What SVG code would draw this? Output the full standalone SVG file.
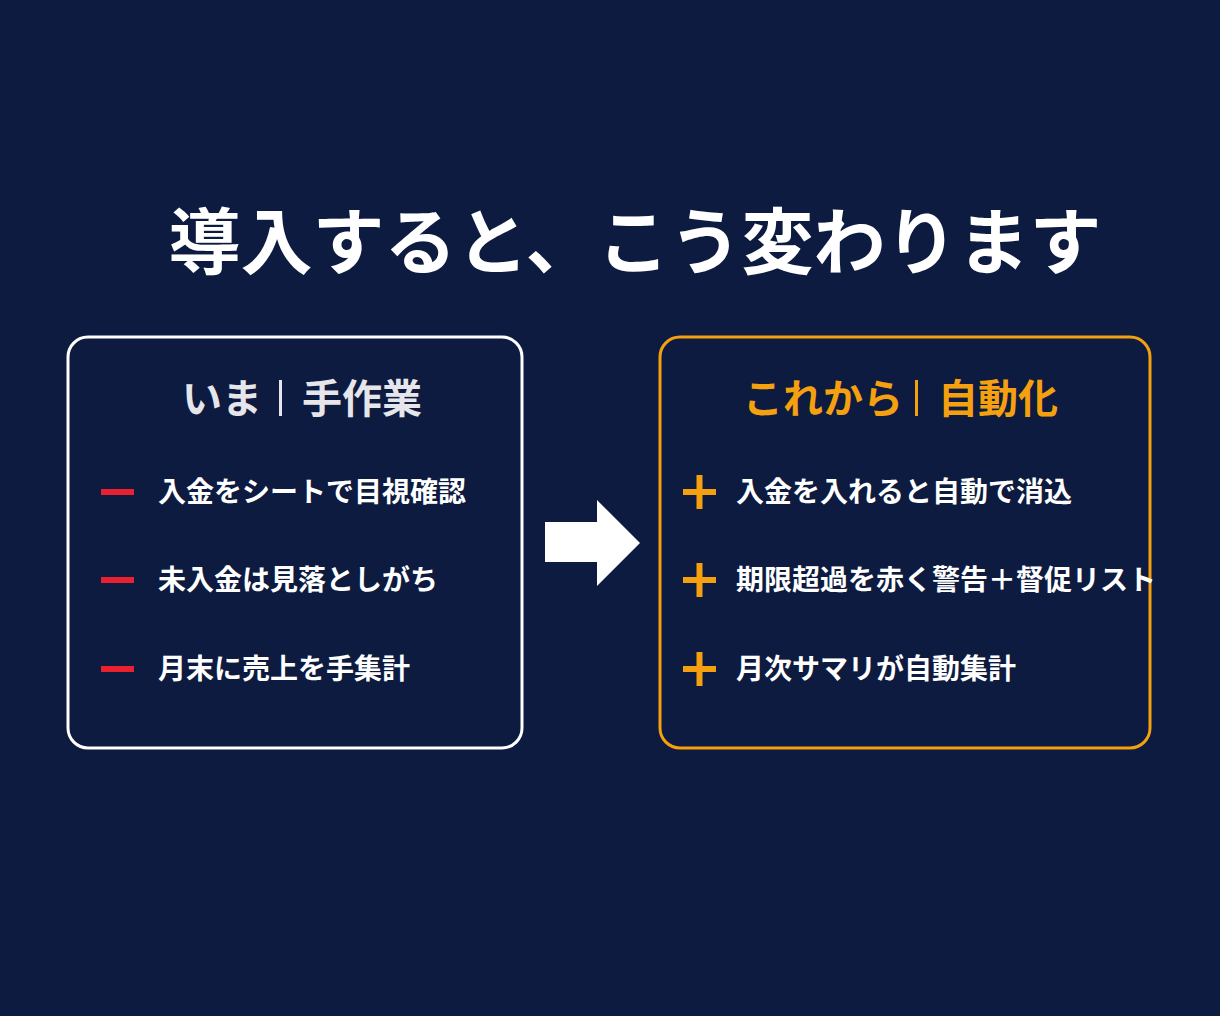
<svg xmlns="http://www.w3.org/2000/svg" width="1220" height="1016" viewBox="0 0 1220 1016">
<style>
text{font-family:"Noto Sans CJK JP","Noto Sans",sans-serif;font-weight:700}
.item{fill:#ffffff;font-size:28px}
.hl{fill:#e6e6ea;font-size:40px}
.hr{fill:#f5a00f;font-size:40px}
</style>
<rect width="1220" height="1016" fill="#0c1b3f"/>
<text x="635" y="268" text-anchor="middle" fill="#ffffff" font-size="72">導入すると、こう変わります</text>
<g id="left">
<rect x="68" y="337" width="454" height="411" rx="20" fill="none" stroke="#ffffff" stroke-width="3"/>
<text x="182" y="413" class="hl">いま</text>
<rect x="279" y="380" width="3" height="36" fill="#e6e6ea"/>
<text x="302" y="413" class="hl">手作業</text>
<g fill="#e8202f"><rect x="101" y="489" width="33" height="6"/><rect x="101" y="577" width="33" height="6"/><rect x="101" y="666" width="33" height="6"/></g>
<text x="158" y="502" class="item">入金をシートで目視確認</text>
<text x="158" y="590" class="item">未入金は見落としがち</text>
<text x="158" y="679" class="item">月末に売上を手集計</text>
</g>
<g id="connectors">
<polygon points="545,522 597,522 597,500 640,543 597,586 597,562 545,562" fill="#ffffff"/>
</g>
<g id="right">
<rect x="660" y="337" width="490" height="411" rx="20" fill="none" stroke="#f5a00f" stroke-width="3"/>
<text x="743" y="413" class="hr">これから</text>
<rect x="915" y="380" width="3" height="36" fill="#f5a00f"/>
<text x="938" y="413" class="hr">自動化</text>
<g fill="#f5a00f">
<rect x="683" y="489" width="33" height="6"/><rect x="696.5" y="475" width="6" height="34"/>
<rect x="683" y="577" width="33" height="6"/><rect x="696.5" y="563" width="6" height="34"/>
<rect x="683" y="666" width="33" height="6"/><rect x="696.5" y="652" width="6" height="34"/>
</g>
<text x="736" y="502" class="item">入金を入れると自動で消込</text>
<text x="736" y="590" class="item">期限超過を赤く警告＋督促リスト</text>
<text x="736" y="679" class="item">月次サマリが自動集計</text>
</g>
</svg>
